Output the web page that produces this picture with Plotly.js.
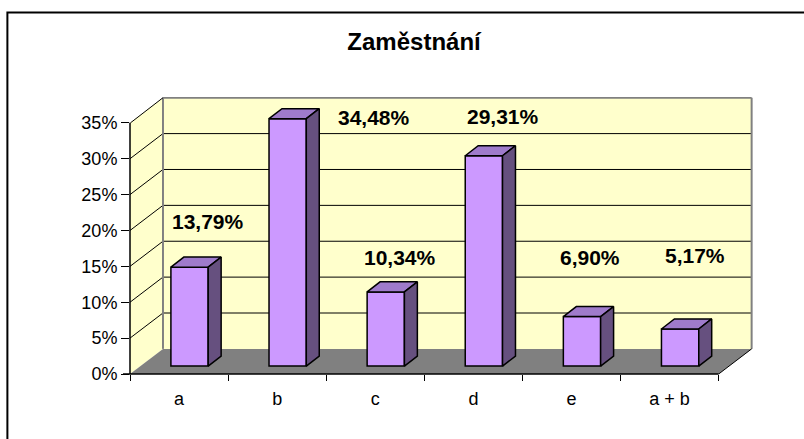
<!DOCTYPE html>
<html>
<head>
<meta charset="utf-8">
<script src="https://cdn.plot.ly/plotly-3.0.1.min.js"></script>
<style>html,body{margin:0;padding:0;background:#fff;}#chart{width:804px;height:439px;}</style>
</head>
<body>
<div id="chart"></div>
<script>
// ---- data ----
var categories = ['a', 'b', 'c', 'd', 'e', 'a + b'];
var values = [13.79, 34.48, 10.34, 29.31, 6.90, 5.17];
var yTickValues = [0, 5, 10, 15, 20, 25, 30, 35];
var chartTitle = 'Zaměstnání';

// ---- 3D geometry (in axis units) ----
var DX = 0.336, DY = 3.5;          // depth offset of back wall
var XMAX = 6.35, YMAX = 38.6;
var BX = 0.107, BW = 0.38, B0 = 1.1; // bar front-face offset, width, base (mid depth)
var DDX = 0.132, DDY = 1.4;         // bar depth
var n = categories.length;
var FONT = 'Liberation Sans, Arial, sans-serif';

var centers = categories.map(function(c, i){ return i + 0.5; });
var barX = categories.map(function(c, i){ return i + 0.5 + BX; });

var traces = [];
// front faces
traces.push({
  type: 'bar', x: barX, y: values, base: B0, width: BW,
  marker: {color: '#CC99FF', line: {color: '#000', width: 1.5}},
  hoverinfo: 'skip', showlegend: false
});
// top and side faces
values.forEach(function(v, i){
  var xl = barX[i] - BW/2, xr = barX[i] + BW/2, yt = B0 + v;
  traces.push({
    type: 'scatter', mode: 'lines', fill: 'toself', fillcolor: '#9F7BCB',
    x: [xl, xr, xr + DDX, xl + DDX, xl], y: [yt, yt, yt + DDY, yt + DDY, yt],
    line: {color: '#000', width: 1.5}, hoverinfo: 'skip', showlegend: false
  });
  traces.push({
    type: 'scatter', mode: 'lines', fill: 'toself', fillcolor: '#66507F',
    x: [xr, xr, xr + DDX, xr + DDX, xr], y: [B0, yt, yt + DDY, B0 + DDY, B0],
    line: {color: '#000', width: 1.5}, hoverinfo: 'skip', showlegend: false
  });
});
// dummy trace for the boundary-tick axis
traces.push({type: 'scatter', mode: 'markers', x: [0], y: [0], xaxis: 'x2',
  marker: {size: 1, opacity: 0}, hoverinfo: 'skip', showlegend: false});

// ---- walls / floor / gridlines as shapes ----
var shapes = [];
var wallR = n + DX;
function path(pts){ return 'M' + pts.map(function(p){ return p[0] + ',' + p[1]; }).join('L') + 'Z'; }
// back wall
shapes.push({type: 'path', xref: 'x', yref: 'y', layer: 'below',
  path: path([[DX, DY], [DX, 35 + DY], [wallR, 35 + DY], [wallR, DY]]),
  fillcolor: '#FFFFCC', line: {width: 0}});
// left wall
shapes.push({type: 'path', xref: 'x', yref: 'y', layer: 'below',
  path: path([[0, 0], [0, 35], [DX, 35 + DY], [DX, DY]]),
  fillcolor: '#FFFFCC', line: {width: 0}});
// floor
shapes.push({type: 'path', xref: 'x', yref: 'y', layer: 'below',
  path: path([[0, 0], [n, 0], [wallR, DY], [DX, DY]]),
  fillcolor: '#808080', line: {width: 0}});
// gridlines
yTickValues.forEach(function(k){
  if (k > 0 && k < 35) {
    shapes.push({type: 'line', xref: 'x', yref: 'y', layer: 'below', x0: DX, x1: wallR, y0: k + DY, y1: k + DY, line: {color: '#000', width: 1}});
    shapes.push({type: 'line', xref: 'x', yref: 'y', layer: 'below', x0: 0, x1: DX, y0: k, y1: k + DY, line: {color: '#000', width: 1}});
  }
});
// wall outline (gray)
var grey = {color: '#808080', width: 2};
shapes.push({type: 'line', xref: 'x', yref: 'y', layer: 'below', x0: DX, x1: DX, y0: DY, y1: 35 + DY, line: grey});
shapes.push({type: 'line', xref: 'x', yref: 'y', layer: 'below', x0: DX, x1: wallR, y0: 35 + DY, y1: 35 + DY, line: grey});
shapes.push({type: 'line', xref: 'x', yref: 'y', layer: 'below', x0: wallR, x1: wallR, y0: DY, y1: 35 + DY, line: grey});
shapes.push({type: 'line', xref: 'x', yref: 'y', layer: 'below', x0: 0.005, x1: DX, y0: 35, y1: 35 + DY, line: {color: '#000', width: 1}});
// floor right edge
shapes.push({type: 'line', xref: 'x', yref: 'y', layer: 'below', x0: n, x1: wallR, y0: 0, y1: DY, line: {color: '#000', width: 1}});
// front axis lines
shapes.push({type: 'line', xref: 'paper', yref: 'paper', layer: 'above', x0: -0.0112, x1: n / XMAX, y0: 0, y1: 0, line: {color: '#000', width: 1.5}});
shapes.push({type: 'line', xref: 'paper', yref: 'paper', layer: 'above', x0: 0, x1: 0, y0: 0, y1: 35 / YMAX, line: {color: '#000', width: 1.5}});
// outer chart border
shapes.push({type: 'rect', xref: 'paper', yref: 'paper', x0: -0.1968, x1: 1.2, y0: -0.5, y1: 1.3055, line: {color: '#000', width: 2}, fillcolor: 'rgba(0,0,0,0)'});

// ---- data labels (offsets from category start / bar value) ----
var labelDX = [0.795, 1.485, 0.755, 0.805, 0.686, 0.755];
var labelDY = [7.4, 1.2, 5.9, 6.6, 9.3, 11.4];
var annotations = values.map(function(v, i){
  return {x: i + labelDX[i], y: v + labelDY[i], xref: 'x', yref: 'y',
    text: v.toFixed(2).replace('.', ',') + '%', showarrow: false,
    xanchor: 'center', yanchor: 'middle',
    font: {family: FONT, size: 21, color: '#000', weight: 'bold'}};
});

var layout = {
  width: 804, height: 439,
  margin: {l: 130, r: 50.6, t: 97.2, b: 65},
  paper_bgcolor: '#fff', plot_bgcolor: 'rgba(0,0,0,0)',
  showlegend: false,
  title: {text: '<b>' + chartTitle + '</b>', x: 0.515, xanchor: 'center', y: 0.905, yanchor: 'middle',
    font: {family: FONT, size: 24, color: '#000'}},
  xaxis: {range: [0, XMAX], tickmode: 'array', tickvals: centers, ticktext: categories,
    showgrid: false, zeroline: false, showline: false, ticks: 'outside', ticklen: 8,
    tickcolor: 'rgba(0,0,0,0)', tickfont: {family: FONT, size: 18, color: '#000'}, fixedrange: true},
  xaxis2: {range: [0, XMAX], overlaying: 'x', anchor: 'y', side: 'bottom', tickmode: 'array',
    tickvals: categories.map(function(c, i){ return i; }).concat([n]),
    showticklabels: false, showgrid: false, zeroline: false, showline: false,
    ticks: 'outside', ticklen: 6, tickwidth: 1, tickcolor: '#000'},
  yaxis: {range: [0, YMAX], tickmode: 'array', tickvals: yTickValues,
    ticktext: yTickValues.map(function(v){ return v + '%'; }),
    showgrid: false, zeroline: false, showline: false, ticks: 'outside', ticklen: 8,
    tickwidth: 1, tickcolor: '#000', tickfont: {family: FONT, size: 18, color: '#000'}},
  shapes: shapes,
  annotations: annotations
};

Plotly.newPlot('chart', traces, layout, {displayModeBar: false, staticPlot: true});
</script>
</body>
</html>
